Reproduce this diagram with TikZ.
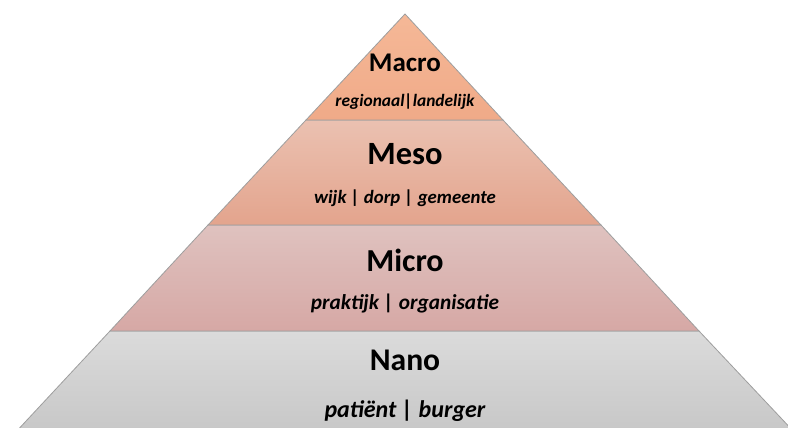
\documentclass[tikz,border=0pt]{standalone}
\usepackage{fontspec}
\setmainfont{Carlito}
\usepackage{tikz}
\tikzset{
	x=1pt, y=1pt,
	laag/.style = {
		draw=black!38,
		line width=0.8pt,
		line join=round
	},
	titel/.style = {
		font=\fontsize{#1}{#1}\selectfont\bfseries,
		inner sep=0pt
	},
	onder/.style = {
		font=\fontsize{#1}{#1}\selectfont\bfseries\itshape,
		inner sep=0pt
	}
}
\definecolor{macrotop}{HTML}{F5B897}
\definecolor{macrobot}{HTML}{F0AA88}
\definecolor{mesotop}{HTML}{EBC1B1}
\definecolor{mesobot}{HTML}{E3A48D}
\definecolor{microtop}{HTML}{DFC2BF}
\definecolor{microbot}{HTML}{D6A8A5}
\definecolor{nanotop}{HTML}{DBDBDB}
\definecolor{nanobot}{HTML}{C7C7C7}

\begin{document}
\begin{tikzpicture}
				\useasboundingbox (0,0) rectangle (788,428);
				\clip (0,0) rectangle (788,428);
				\fill[white] (0,0) rectangle (788,428);
				% hoekpunten
				\coordinate (top) at (405,414);
				\coordinate (l1) at (306,308);
				\coordinate (r1) at (503,308);
				\coordinate (l2) at (208,203);
				\coordinate (r2) at (601,203);
				\coordinate (l3) at (110,97);
				\coordinate (r3) at (699,97);
				\coordinate (l4) at (14,-6);
				\coordinate (r4) at (796,-6);
				% lagen
				\path[laag, top color=nanotop, bottom color=nanobot]
					(l3) -- (r3) -- (r4) -- (l4) -- cycle;
				\path[laag, top color=microtop, bottom color=microbot]
					(l2) -- (r2) -- (r3) -- (l3) -- cycle;
				\path[laag, top color=mesotop, bottom color=mesobot]
					(l1) -- (r1) -- (r2) -- (l2) -- cycle;
				\path[laag, top color=macrotop, bottom color=macrobot]
					(top) -- (r1) -- (l1) -- cycle;
				% teksten
				\node[titel=27] (macro) at (405,365) {Macro};
				\node[onder=17.4] (macrosub) at (405,326) {regionaal|landelijk};
				\node[titel=32.5] (meso) at (405,274) {Meso};
				\node[onder=18.8] (mesosub) at (405,230) {wijk | dorp | gemeente};
				\node[titel=32] (micro) at (405,168) {Micro};
				\node[onder=21.3] (microsub) at (405,124) {praktijk | organisatie};
				\node[titel=31.6] (nano) at (405,68) {Nano};
				\node[onder=24] (nanosub) at (405,17) {patiënt | burger};
			\end{tikzpicture}
\end{document}
